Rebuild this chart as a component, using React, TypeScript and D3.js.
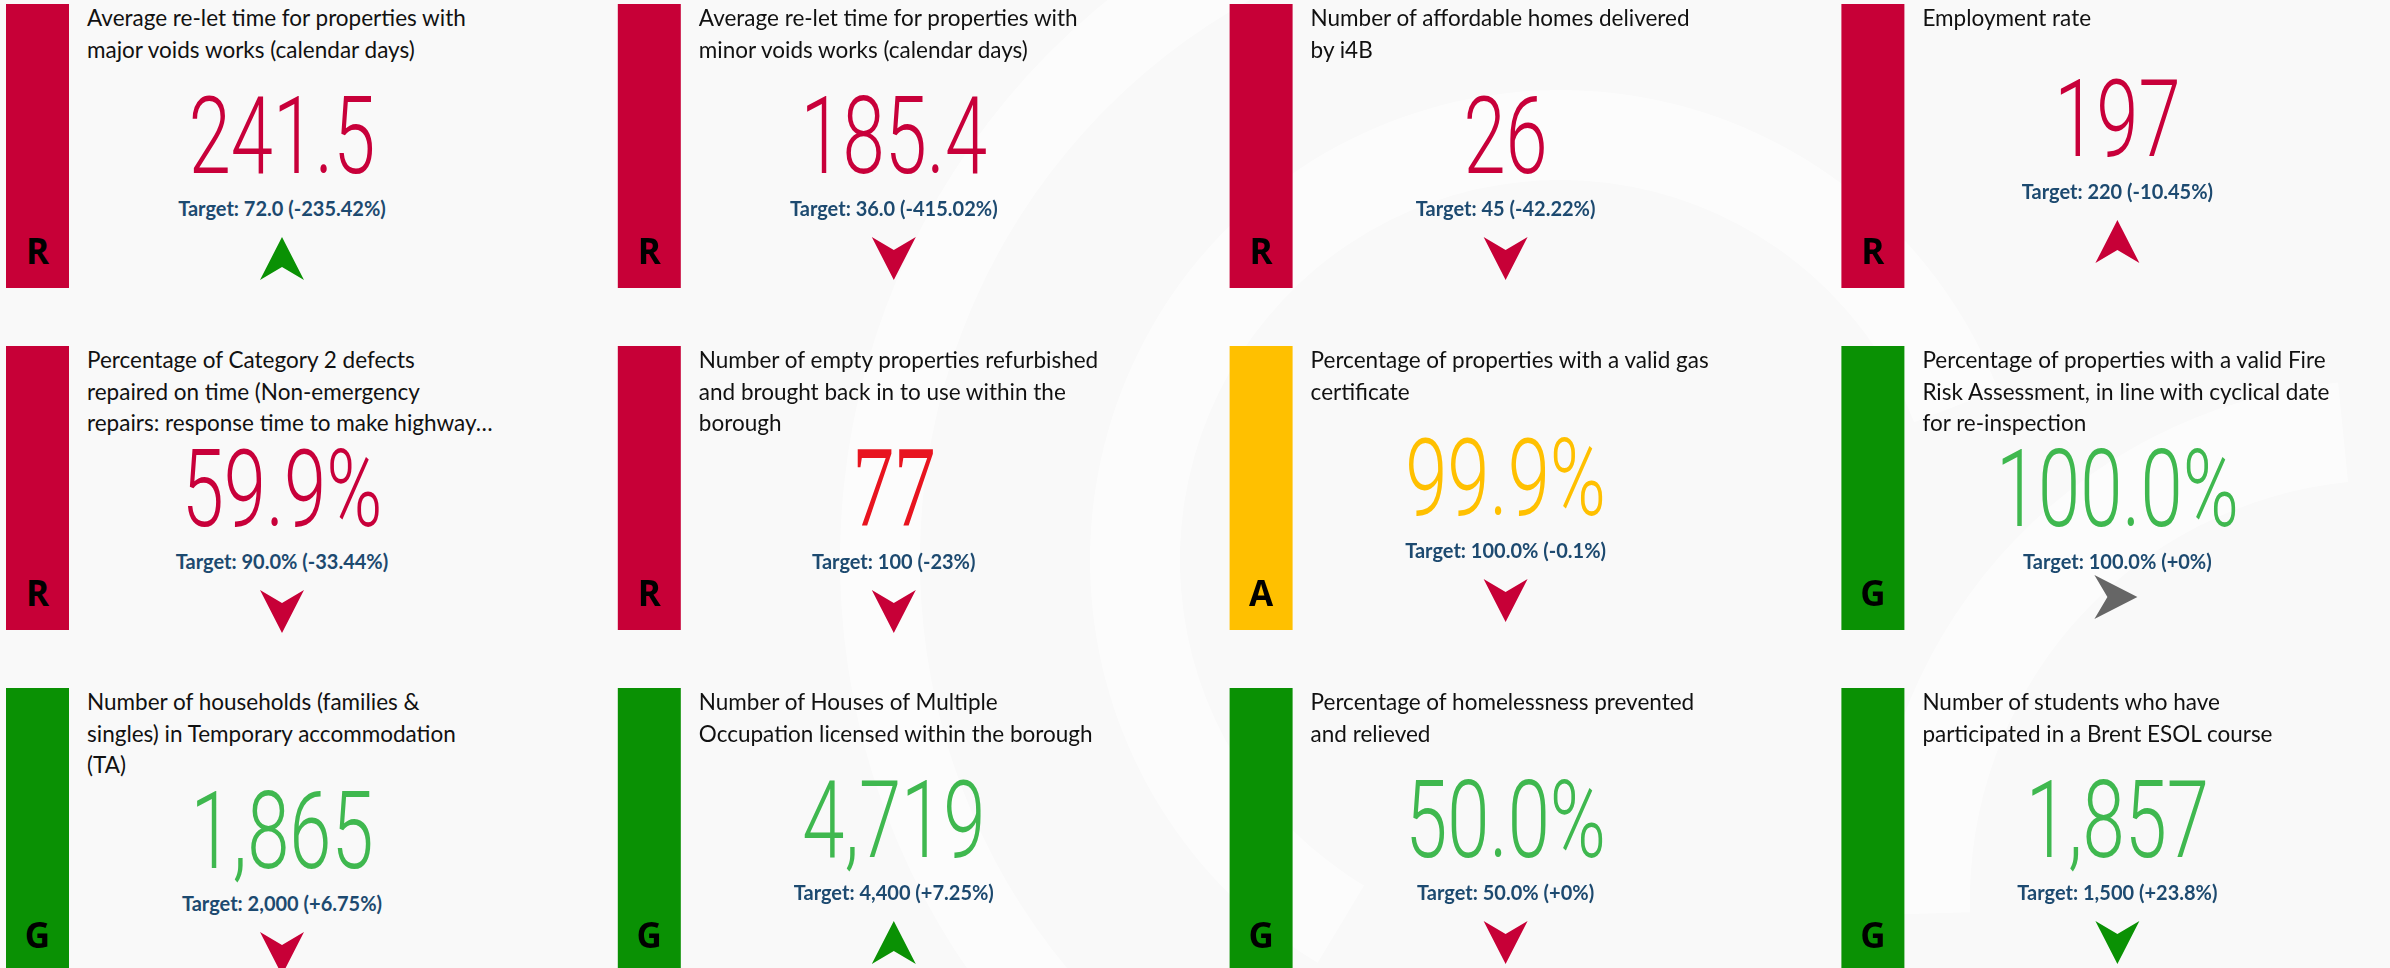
import React, { useMemo } from "react";
import { scaleBand, scaleOrdinal, line, arc } from "d3";

// KPI cards, read left to right, top to bottom
const titles = [
  ["Average re-let time for properties with", "major voids works (calendar days)"],
  ["Average re-let time for properties with", "minor voids works (calendar days)"],
  ["Number of affordable homes delivered", "by i4B"],
  ["Employment rate"],
  ["Percentage of Category 2 defects", "repaired on time (Non-emergency", "repairs: response time to make highway…"],
  ["Number of empty properties refurbished", "and brought back in to use within the", "borough"],
  ["Percentage of properties with a valid gas", "certificate"],
  ["Percentage of properties with a valid Fire", "Risk Assessment, in line with cyclical date", "for re-inspection"],
  ["Number of households (families &", "singles) in Temporary accommodation", "(TA)"],
  ["Number of Houses of Multiple", "Occupation licensed within the borough"],
  ["Percentage of homelessness prevented", "and relieved"],
  ["Number of students who have", "participated in a Brent ESOL course"],
];
const values = ["241.5", "185.4", "26", "197", "59.9%", "77", "99.9%", "100.0%", "1,865", "4,719", "50.0%", "1,857"];
const targets = ["72.0", "36.0", "45", "220", "90.0%", "100", "100.0%", "100.0%", "2,000", "4,400", "50.0%", "1,500"];
const variances = ["-235.42%", "-415.02%", "-42.22%", "-10.45%", "-33.44%", "-23%", "-0.1%", "+0%", "+6.75%", "+7.25%", "+0%", "+23.8%"];
const rag = ["R", "R", "R", "R", "R", "R", "A", "G", "G", "G", "G", "G"];
const trendDir = ["up", "down", "down", "up", "down", "down", "down", "flat", "down", "up", "down", "down"];
const trendRag = ["G", "R", "R", "R", "R", "R", "R", "N", "R", "G", "R", "G"];

const W = 2390;
const H = 968;
const COLS = 4;
const BAR_W = 63;
const BAR_H = 284;
const SERIF_VALUE = new Set([5]);

const barColor = scaleOrdinal<string, string>().domain(["R", "A", "G"]).range(["#c70037", "#ffc000", "#0a9104"]);
const valueColor = scaleOrdinal<string, string>().domain(["R", "A", "G"]).range(["#c8003a", "#ffc000", "#3fb84f"]);
const arrowColor = scaleOrdinal<string, string>().domain(["R", "G", "N"]).range(["#c70037", "#0a9104", "#666666"]);

// value baseline below bar top, by number of title lines
const valueOffset = { 1: 152, 2: 169, 3: 180 };

const App = () => {
  const colScale = useMemo(() => scaleBand<number>().domain([0, 1, 2, 3]).range([6, 6 + 4 * 611.8]), []);
  const rowScale = useMemo(() => scaleBand<number>().domain([0, 1, 2]).range([4, 4 + 3 * 342]), []);

  // arrowhead pointing up, origin at its top tip
  const arrowPath = line()([[0, 0], [22, 43], [0, 30], [-22, 43], [0, 0]]) + "Z";
  const ring = arc();

  return (
    <svg width={W} height={H} style={{ position: "absolute", left: 0, top: 0, display: "block" }}>
      <rect width={W} height={H} fill="#f9f9f9" />
      {/* faint watermark */}
      <g fill="#ffffff" opacity={0.55}>
        <path transform="translate(1560,560)" d={ring({ innerRadius: 640, outerRadius: 720, startAngle: -2.9, endAngle: -0.2 } as any) || ""} />
        <path transform="translate(1560,560)" d={ring({ innerRadius: 380, outerRadius: 470, startAngle: -2.6, endAngle: 1.2 } as any) || ""} />
        <path transform="translate(2390,900)" d={ring({ innerRadius: 420, outerRadius: 520, startAngle: -1.6, endAngle: -0.1 } as any) || ""} />
      </g>
      {values.map((v, i) => {
        const c = i % COLS;
        const r = Math.floor(i / COLS);
        const x0 = colScale(c) as number;
        const y0 = rowScale(r) as number;
        const cx = x0 + 276;
        const tx = x0 + BAR_W + 18;
        const vy = y0 + valueOffset[titles[i].length];
        const ty = vy + 43;
        const serif = SERIF_VALUE.has(i);
        const dir = trendDir[i];
        let arrowT = `translate(${cx},${ty + 21})`;
        if (dir === "down") arrowT = `translate(${cx},${ty + 64}) rotate(180)`;
        if (dir === "flat") arrowT = `translate(${cx + 20},${ty + 28}) rotate(90)`;
        return (
          <g key={i}>
            <rect x={x0} y={y0} width={BAR_W} height={BAR_H} fill={barColor(rag[i])} />
            <text
              x={x0 + BAR_W / 2}
              y={y0 + 260}
              textAnchor="middle"
              fontFamily="'Open Sans', 'Noto Sans', sans-serif"
              fontWeight={700}
              fontSize={35}
              fill="#000"
            >
              {rag[i]}
            </text>
            <text fontFamily="Lato, 'Noto Sans', sans-serif" fontSize={22.5} fill="#111">
              {titles[i].map((t, j) => (
                <tspan key={j} x={tx} y={y0 + 22 + j * 31.7}>
                  {t}
                </tspan>
              ))}
            </text>
            <text
              transform={`translate(${cx},${vy}) scale(0.71,1)`}
              textAnchor="middle"
              fontFamily={serif ? "'Liberation Serif', 'DejaVu Serif', serif" : "Roboto, sans-serif"}
              fontWeight={serif ? 400 : 300}
              fontSize={serif ? 117 : 107}
              fill={serif ? "#e8141f" : valueColor(rag[i])}
            >
              {v}
            </text>
            <text
              x={cx}
              y={ty}
              textAnchor="middle"
              fontFamily="Lato, 'Noto Sans', sans-serif"
              fontWeight={700}
              fontSize={20}
              fill="#1d4a70"
            >
              {`Target: ${targets[i]} (${variances[i]})`}
            </text>
            <path d={arrowPath} transform={arrowT} fill={arrowColor(trendRag[i])} />
          </g>
        );
      })}
    </svg>
  );
};

export default App;
